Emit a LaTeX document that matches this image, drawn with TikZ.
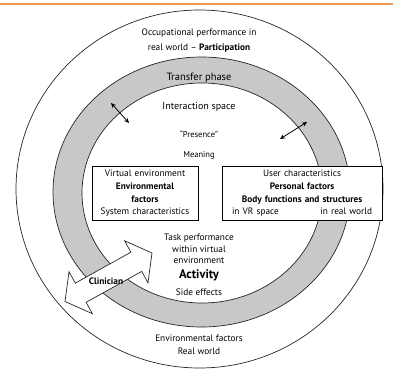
\documentclass[tikz,border=0pt]{standalone}
\usepackage{fontspec}
\setmainfont{PT Sans}
\usetikzlibrary{arrows.meta}

\definecolor{rulecolor}{RGB}{240,150,80}
\definecolor{bandgray}{RGB}{200,200,200}

\begin{document}
\begin{tikzpicture}[x=1pt, y=-1pt,
    lbl/.style={inner sep=0pt, anchor=base, font=\fontsize{9.3}{11}\selectfont},
    boldlbl/.style={lbl, font=\fontsize{9.3}{11}\selectfont\bfseries},
    factorbox/.style={draw, fill=white, line width=0.7pt, inner ysep=3.5pt, align=center, font=\fontsize{9.3}{12.7}\selectfont},
    ring/.style={line width=0.7pt, draw=black!85},
    link/.style={<->, >={Stealth[length=5pt, width=4.5pt]}, line width=0.8pt}]
    \useasboundingbox (0, 0) rectangle (393, 369);
    \draw [rulecolor, line width=2pt] (0, 4) -- (393, 4);

    % real world and transfer phase
    \draw [ring] (199.5, 189) ellipse (183.5pt and 179pt);
    \fill [bandgray, even odd rule] (201.5, 192) ellipse (148.5pt and 135pt) (202, 193) ellipse (120pt and 110pt);
    \draw [ring] (201.5, 192) ellipse (148.5pt and 135pt);
    \draw [ring] (202, 193) ellipse (120pt and 110pt);

    % clinician
    \draw [ring, fill=white] (152, 253) -- (124.6, 240.8) -- (130.9, 252.2) -- (75.3, 283.1) -- (69, 271.7)
        -- (65, 301.5) -- (92.4, 313.7) -- (86.1, 302.3) -- (141.7, 271.4) -- (148, 282.8) -- cycle;
    \draw (106, 284) node [boldlbl] (clinician) {Clinician};

    \draw (199, 36) node [lbl] (occup) {Occupational performance in};
    \draw (199, 50) node [lbl] (partic) {real world -- \textbf{Participation}};
    \draw (199, 81) node [lbl, font=\fontsize{10.5}{12}\selectfont] (transfer) {Transfer phase};
    \draw (199, 109.5) node [lbl, font=\fontsize{10}{12}\selectfont] (interact) {Interaction space};
    \draw (199, 137) node [lbl, font=\fontsize{8.5}{10}\selectfont] (presence) {“Presence”};
    \draw (199, 157) node [lbl, font=\fontsize{8.5}{10}\selectfont] (meaning) {Meaning};

    \node [factorbox, text width=99pt, inner xsep=3.5pt] (virtual) at (145, 193.5)
        {Virtual environment\\ \textbf{Environmental}\\ \textbf{factors}\\ System characteristics};
    \node [factorbox, text width=140pt, inner xsep=10pt] (user) at (302, 193.5)
        {User characteristics\\ \textbf{Personal factors}\\ \textbf{Body functions and structures}\\ in VR space\hfill in real world};

    \draw (199, 240) node [lbl] (task) {Task performance};
    \draw (199, 252) node [lbl] (within) {within virtual};
    \draw (199, 263.5) node [lbl] (environ) {environment};
    \draw (199, 278) node [lbl, font=\fontsize{12.5}{14}\selectfont\bfseries] (activity) {Activity};
    \draw (199, 295.5) node [lbl] (side) {Side effects};

    \draw (199, 341) node [lbl] (envreal) {Environmental factors};
    \draw (199, 354) node [lbl] (realworld) {Real world};

    % presence links
    \coordinate (presA) at (111, 103);
    \coordinate (presB) at (129, 123);
    \coordinate (presC) at (280, 139);
    \coordinate (presD) at (307, 122);
    \draw [link] (presA) -- (presB);
    \draw [link] (presC) -- (presD);
\end{tikzpicture}
\end{document}
